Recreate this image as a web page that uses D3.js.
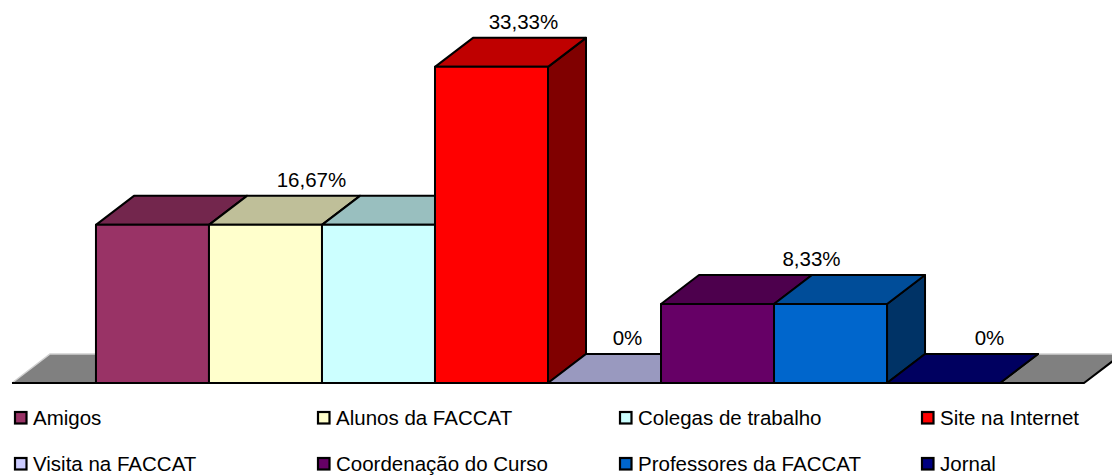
<!DOCTYPE html>
<html>
<head>
<meta charset="utf-8">
<script src="https://cdn.jsdelivr.net/npm/d3@7"></script>
<style>
  html, body { margin: 0; padding: 0; background: #fff; }
  svg { display: block; font-family: "Liberation Sans", Arial, sans-serif; }
</style>
</head>
<body>
<div id="chart"></div>
<script>
// Daten
const categories = ['Amigos', 'Alunos da FACCAT', 'Colegas de trabalho', 'Site na Internet',
                    'Visita na FACCAT', 'Coordenação do Curso', 'Professores da FACCAT', 'Jornal'];
const values = [16.67, 16.67, 16.67, 33.33, 0, 8.33, 8.33, 0];
const colors = ['#993366', '#FFFFCC', '#CCFFFF', '#FF0000', '#CCCCFF', '#660066', '#0066CC', '#000080'];
// welche Balken ein Label zeigen
const labelled = ['Alunos da FACCAT', 'Site na Internet', 'Visita na FACCAT', 'Professores da FACCAT', 'Jornal'];

// Layout
const W = 1112, H = 475;
const floorY = 383, floorLeft = 12, floorRight = 1084;
const dx = 38, dy = 29;              // 3D-Tiefe
const labelShift = { 'Alunos da FACCAT': 8, 'Site na Internet': -6, 'Visita na FACCAT': -15,
                     'Professores da FACCAT': -57, 'Jornal': 8 };

const fmt = v => d3.format('.2f')(v).replace('.', ',').replace(/,00$/, '') + '%';
const shade = (c, k) => { const r = d3.rgb(c); return d3.rgb(r.r * k, r.g * k, r.b * k).formatHex(); };

const svg = d3.select('#chart').append('svg')
  .attr('width', W).attr('height', H);

const x = d3.scaleBand()
  .domain(categories)
  .range([floorLeft, floorRight])
  .paddingInner(0)
  .paddingOuter(0.743);

const y = d3.scaleLinear()
  .domain([0, 35])
  .range([floorY, 51]);

// Boden
const floor = svg.append('g');
floor.append('path')
  .attr('d', `M${floorLeft},${floorY}L${floorLeft + dx},${floorY - dy}L${floorRight + dx},${floorY - dy}L${floorRight},${floorY}Z`)
  .attr('fill', '#808080');
floor.append('path')
  .attr('d', `M${floorLeft},${floorY}L${floorLeft + dx},${floorY - dy}L${floorRight + dx},${floorY - dy}`)
  .attr('fill', 'none').attr('stroke', '#d0d0d0').attr('stroke-width', 1.5);
floor.append('path')
  .attr('d', `M${floorLeft},${floorY}L${floorRight},${floorY}L${floorRight + dx},${floorY - dy}`)
  .attr('fill', 'none').attr('stroke', '#000').attr('stroke-width', 2);

// Balken (links nach rechts, damit Verdeckung stimmt)
const data = categories.map((c, i) => ({ cat: c, value: values[i], color: colors[i] }));
const bw = x.bandwidth();

const bars = svg.selectAll('g.bar')
  .data(data)
  .enter().append('g')
    .attr('class', 'bar')
    .attr('stroke', '#000')
    .attr('stroke-width', 2)
    .attr('stroke-linejoin', 'round');

bars.append('path')   // Seite
  .attr('d', d => {
    const x1 = x(d.cat) + bw, t = y(d.value);
    return `M${x1},${t}L${x1 + dx},${t - dy}L${x1 + dx},${floorY - dy}L${x1},${floorY}Z`;
  })
  .attr('fill', d => shade(d.color, 0.5));

bars.append('path')   // Deckel
  .attr('d', d => {
    const x0 = x(d.cat), t = y(d.value);
    return `M${x0},${t}L${x0 + dx},${t - dy}L${x0 + bw + dx},${t - dy}L${x0 + bw},${t}Z`;
  })
  .attr('fill', d => shade(d.color, 0.75));

bars.filter(d => d.value > 0).append('rect')   // Front
  .attr('x', d => x(d.cat))
  .attr('y', d => y(d.value))
  .attr('width', bw)
  .attr('height', d => floorY - y(d.value))
  .attr('fill', d => d.color);

// Werte-Labels
svg.selectAll('text.val')
  .data(data.filter(d => labelled.includes(d.cat)))
  .enter().append('text')
    .attr('class', 'val')
    .attr('x', d => x(d.cat) + bw / 2 + dx + (labelShift[d.cat] || 0))
    .attr('y', d => y(d.value) - dy - 9)
    .attr('text-anchor', 'middle')
    .attr('font-size', 20.5)
    .attr('fill', '#000')
    .text(d => fmt(d.value));

// Legende (2 Zeilen x 4 Spalten)
const legX = [14, 317, 619, 921];
const legY = [425, 471];
const legend = svg.selectAll('g.leg')
  .data(data)
  .enter().append('g')
    .attr('class', 'leg')
    .attr('transform', (_, i) => `translate(${legX[i % 4]},${legY[Math.floor(i / 4)]})`);

legend.append('rect')
  .attr('x', 1).attr('y', -13)
  .attr('width', 11.5).attr('height', 11.5)
  .attr('fill', d => d.color)
  .attr('stroke', '#000').attr('stroke-width', 2.2);

legend.append('text')
  .attr('x', 19).attr('y', 0)
  .attr('font-size', 20.5)
  .attr('fill', '#000')
  .text(d => d.cat);
</script>
</body>
</html>
